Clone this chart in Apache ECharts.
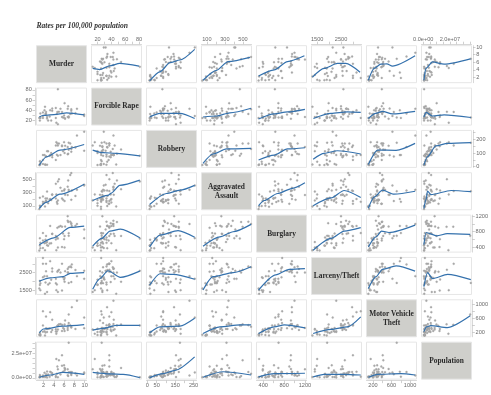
<!DOCTYPE html>
<html><head><meta charset="utf-8">
<style>html,body{margin:0;padding:0;background:#fff}#c{width:491px;height:395px;filter:blur(.35px)}</style>
<script src="https://cdn.jsdelivr.net/npm/echarts@6/dist/echarts.min.js"></script>
</head><body><div id="c"></div>
<script>
const states=["AL","AK","AZ","AR","CA","CO","CT","DE","FL","GA","HI","ID","IL","IN","IA","KS","KY","LA","ME","MD","MA","MI","MN","MS","MO","MT","NE","NV","NH","NJ","NM","NY","NC","ND","OH","OK","OR","PA","RI","SC","SD","TN","TX","UT","VT","VA","WA","WV","WI","WY"];
const murder=[8.2,4.8,7.5,6.7,6.9,3.7,2.9,4.4,5,6.2,1.9,2.4,6,5.8,1.3,3.7,4.6,9.9,1.4,9.9,2.7,6.1,2.2,7.4,6.9,1.9,2.5,8.5,1.4,4.8,6.8,4.5,6.7,1.2,4.7,5.3,2.5,5.6,3.2,7.4,2.3,7.2,5.6,1.9,1.3,6.1,3.3,4.4,3.5,2.7];
const rape=[34.3,81.1,33.8,42.9,26,43.4,20,44.7,37.1,23.6,25.3,32.9,30,26,26,39,33,31.7,25,29,27,54,40,39,28,29,33,43,34,13,48,16,27,25,37,43,37,27,28,42,47,33,37,36,20,25,40,25,20,24];
const robbery=[141.4,80.9,144.4,91.1,176.1,84.6,113,154.8,169.4,153,85.6,14.6,180,114,40,69,88,117,21,256.7,114,126,85,110,125,20,74,228,37,155,95,180,145,12,170,85,75,150,80,130,16,170,155,50,12,100,85,50,100,15];
const assault=[247.8,465.1,327.4,386.8,317.3,264.7,138.6,428.4,496.6,264.3,159,210,328,190,220,270,155,415.3,84,404,312,347,150,190,340,240,175,340,95,180,480,270,260,50,130,370,170,210,190,590,90,560,320,130,100,170,200,210,185,210];
const burglary=[953.8,622.5,948.4,1084.6,693.3,744.8,437.1,688.9,926.3,931,763,593,606,750,630,740,650,856,510,631,530,690,500,1020,760,375,510,1000,370,390,1050,320,1200,310,900,950,690,400,490,1000,320,1060,930,570,440,390,950,600,500,450];
const larceny=[2650,2599.1,2965.2,2711.2,1916.5,2735.2,1824.1,2144.2,2658.3,2580.2,3328,1945,2110,2230,2030,2560,1830,2600,1900,2150,1400,1980,2300,1960,2800,2230,2570,2300,1500,1400,2500,1500,2500,1600,2550,2500,3000,1480,1900,2800,1300,2850,3000,3000,1800,2200,3150,1900,2100,2300];
const vehicle=[288.3,391,924.4,262.1,712.8,559.5,296.8,278.5,423.3,537.7,803,186,290,320,170,260,215,310,100,620,290,420,224,330,460,210,310,1115,130,270,390,150,320,120,380,430,650,230,300,350,100,400,410,390,110,230,780,215,200,200];
const population=[4.55e6,0.67e6,5.97e6,2.78e6,35.8e6,4.66e6,3.48e6,0.84e6,17.8e6,9.07e6,1.26e6,1.39e6,12.7e6,6.24e6,2.95e6,2.74e6,4.17e6,4.52e6,1.32e6,5.58e6,6.4e6,10.1e6,5.1e6,2.9e6,5.76e6,0.93e6,1.75e6,2.4e6,1.3e6,8.7e6,1.9e6,19.2e6,8.68e6,0.64e6,11.5e6,3.55e6,3.6e6,12.4e6,1.08e6,4.2e6,0.77e6,5.96e6,22.9e6,2.47e6,0.62e6,7.6e6,6.2e6,1.8e6,5.5e6,0.5e6];

const names=["Murder","Forcible Rape","Robbery","Aggravated\nAssault","Burglary","Larceny/Theft","Motor Vehicle\nTheft","Population"];
const values=[murder,rape,robbery,assault,burglary,larceny,vehicle,population];
const lows=[0.65,11.3,-5,40,270,1260,60,-1.3e6];
const highs=[10.35,83.5,266,595,1230,3360,1140,36.3e6];
const ticksMurder=[2,4,6,8,10];
const ticksRape=[20,30,40,50,60,70,80];
const ticksRobbery=[0,50,100,150,200,250];
const ticksAssault=[100,200,300,400,500];
const ticksBurglary=[400,600,800,1000,1200];
const ticksLarceny=[1500,2000,2500,3000];
const ticksVehicle=[200,400,600,800,1000];
const ticksPopulation=[0,5e6,10e6,15e6,20e6,25e6,30e6,35e6];
const ticks=[ticksMurder,ticksRape,ticksRobbery,ticksAssault,ticksBurglary,ticksLarceny,ticksVehicle,ticksPopulation];
const xLabels=[[2,4,6,8,10],[20,40,60,80],[0,50,150,250],[100,300,500],[400,800,1200],[1500,2500],[200,600,1000],[0,20e6]];
const yLabels=[[2,4,6,8,10],[20,40,60,80],[0,100,200],[100,300,500],[400,800,1200],[1500,2500],[200,600,1000],[0,25e6]];

// fitted curves, [x value, y value]; named fit_row_column
const fit_1_2=[[13,4.4],[23,4.1],[38,5.1],[52,5.7],[80,5]];
const fit_1_3=[[12,1.1],[68,3.5],[122,5.9],[176,6.6],[256,9.4]];
const fit_1_4=[[57,1.3],[206,3.9],[335,6.2],[578,7.3]];
const fit_1_5=[[310,2.4],[610,4],[865,6.2],[1190,7.7]];
const fit_1_6=[[1300,2.1],[1790,4.4],[2350,5.7],[2700,5.7],[3300,3.4]];
const fit_1_7=[[100,1.3],[225,4.4],[370,5.5],[500,5.6],[620,5],[1110,7.7]];
const fit_1_8=[[0.5e6,1.3e0],[2e6,4.4],[7e6,6.1],[15.7e6,5.5],[35.5e6,6.9]];
const fit_2_1=[[1.2,27],[2,30],[4.5,32],[6.5,35],[9.9,31]];
const fit_2_3=[[12,27],[68,34],[176,34],[256,24]];
const fit_2_4=[[57,27],[206,29],[355,35],[590,44]];
const fit_2_5=[[310,23],[610,33],[865,37],[1200,42]];
const fit_2_6=[[1340,24],[2080,34],[2770,37],[3328,36]];
const fit_2_7=[[100,24],[260,34],[405,38],[620,33],[1110,38]];
const fit_2_8=[[0.5e6,27],[2.2e6,36],[7e6,29],[15.7e6,31],[35.8e6,26]];
const fit_3_1=[[1.2,12],[2.6,73],[5.2,122],[9.9,163]];
const fit_3_2=[[13,122],[28,103],[47,98],[81,79]];
const fit_3_4=[[57,25],[168,93],[318,130],[590,134]];
const fit_3_5=[[310,49],[610,85],[865,130],[1200,139]];
const fit_3_6=[[1330,55],[1790,98],[2350,117],[3328,93]];
const fit_3_7=[[100,17],[300,122],[700,120],[1110,171]];
const fit_3_8=[[0.5e6,12],[3.2e6,73],[9.5e6,152],[18.3e6,171],[35.8e6,176]];
const fit_4_1=[[1.2,62],[2.5,150],[5.2,273],[9.9,423]];
const fit_4_2=[[13,179],[35,256],[40,290],[52,406],[81,484]];
const fit_4_3=[[12,118],[103,284],[176,334],[256,406]];
const fit_4_5=[[310,100],[420,179],[675,284],[961,362],[1200,445]];
const fit_4_6=[[1330,100],[2080,217],[2630,329],[3328,223]];
const fit_4_7=[[100,62],[225,228],[405,334],[655,273],[1110,318]];
const fit_4_8=[[0.5e6,62],[2.2e6,195],[3.2e6,318],[5.8e6,268],[21e6,329],[35.8e6,312]];
const fit_5_1=[[1.2,462],[4,640],[7.2,910],[9.9,942]];
const fit_5_2=[[13,424],[26,625],[38,815],[53,865],[81,640]];
const fit_5_3=[[12,404],[68,712],[166,827],[256,654]];
const fit_5_4=[[57,424],[245,664],[390,798],[590,990]];
const fit_5_6=[[1330,318],[2080,625],[2630,815],[3328,904]];
const fit_5_7=[[100,404],[265,664],[385,815],[545,779],[1110,971]];
const fit_5_8=[[0.5e6,462],[2.2e6,779],[10.4e6,692],[18.3e6,750],[35.8e6,731]];
const fit_6_1=[[1.2,2016],[3.3,2205],[5.8,2268],[7.2,2457],[9.9,2500]];
const fit_6_2=[[13,1554],[23.5,2163],[35,2604],[53,2226],[81,2583]];
const fit_6_3=[[12,1785],[68,2436],[140,2394],[256,2121]];
const fit_6_4=[[57,1512],[168,2268],[390,2500],[590,2835]];
const fit_6_5=[[310,1512],[640,2373],[900,2688],[1200,2730]];
const fit_6_7=[[100,1596],[265,2268],[405,2688],[700,2877],[1110,2583]];
const fit_6_8=[[0.5e6,1701],[3.2e6,2500],[7e6,2163],[18.3e6,2394],[35.8e6,2100]];
const fit_7_1=[[1.2,179],[2,287],[5.8,373],[9.9,416]];
const fit_7_2=[[13,254],[28,308],[47,395],[81,395]];
const fit_7_3=[[12,179],[68,352],[176,373],[256,600]];
const fit_7_4=[[57,157],[245,352],[467,406],[590,406]];
const fit_7_5=[[310,157],[610,352],[805,406],[1200,319]];
const fit_7_6=[[1330,157],[2080,276],[2770,352],[3328,643]];
const fit_7_8=[[0.5e6,211],[2.5e6,352],[5.8e6,384],[18.3e6,330],[35.8e6,676]];
const fit_8_1=[[1.2,0.6e6],[3.3,2.9e6],[5.8,5.5e6],[9.9,3.6e6]];
const fit_8_2=[[13,5.5e6],[38,4e6],[57,3.6e6],[81,0.2e6]];
const fit_8_3=[[12,0.2e6],[85,4.3e6],[150,7.7e6],[256,21.3e6]];
const fit_8_4=[[57,0.6e6],[280,6.2e6],[590,2.9e6]];
const fit_8_5=[[310,1e6],[610,4.3e6],[1200,4.7e6]];
const fit_8_6=[[1330,1e6],[1790,3.6e6],[2630,3.6e6],[3328,2.9e6]];
const fit_8_7=[[100,0.6e6],[300,3.6e6],[800,4.3e6],[1110,2.9e6]];
const fits={fit_1_2,fit_1_3,fit_1_4,fit_1_5,fit_1_6,fit_1_7,fit_1_8,fit_2_1,fit_2_3,fit_2_4,fit_2_5,fit_2_6,fit_2_7,fit_2_8,fit_3_1,fit_3_2,fit_3_4,fit_3_5,fit_3_6,fit_3_7,fit_3_8,fit_4_1,fit_4_2,fit_4_3,fit_4_5,fit_4_6,fit_4_7,fit_4_8,fit_5_1,fit_5_2,fit_5_3,fit_5_4,fit_5_6,fit_5_7,fit_5_8,fit_6_1,fit_6_2,fit_6_3,fit_6_4,fit_6_5,fit_6_7,fit_6_8,fit_7_1,fit_7_2,fit_7_3,fit_7_4,fit_7_5,fit_7_6,fit_7_8,fit_8_1,fit_8_2,fit_8_3,fit_8_4,fit_8_5,fit_8_6,fit_8_7};

const label=(v,k)=> k===7 ? (v===0?'0.0e+00':(v/1e7).toFixed(1)+'e+07') : String(v);
const AX='#b0b0b0', TXT='#6a6a6a', FONT='"Liberation Sans",sans-serif';
const X0=36.5,XS=55,PW=50,Y0=45.7,YS=42.35,PH=37;
const grid=[],xAxis=[],yAxis=[],series=[],graphic=[];
graphic.push({type:'text',x:36.5,y:26,silent:true,style:{text:'Rates per 100,000 population',textAlign:'left',textVerticalAlign:'middle',fontFamily:'"Liberation Serif",serif',fontStyle:'italic',fontWeight:'bold',fontSize:7.6,fill:'#333'}});
for(let r=0;r<8;r++)for(let c=0;c<8;c++){
  const i=grid.length,diag=r===c;
  const gx=X0+c*XS,gy=Y0+r*YS;
  grid.push({left:gx,top:gy,width:PW,height:PH,show:true,borderColor:'#e6e6e6',borderWidth:1,backgroundColor:diag?'#cfcfcb':'transparent'});
  const showTop=r===0&&c%2===1, showBottom=r===7&&c%2===0;
  const showX=showTop||showBottom;
  const showLeft=c===0&&r%2===1, showRight=c===7&&r%2===0;
  const showY=showLeft||showRight;
  xAxis.push({gridIndex:i,type:'value',min:lows[c],max:highs[c],position:showTop?'top':'bottom',offset:showX?1.5:0,splitLine:{show:false},
    axisLine:{show:showX,onZero:false,lineStyle:{color:AX,width:.5}},
    axisTick:{show:showX,length:2.5,customValues:ticks[c],lineStyle:{color:AX,width:.6}},
    axisLabel:{show:showX,customValues:xLabels[c],margin:1.5,fontSize:5.6,color:TXT,fontFamily:FONT,hideOverlap:false,showMinLabel:true,showMaxLabel:true,formatter:v=>label(v,c)}});
  yAxis.push({gridIndex:i,type:'value',min:lows[r],max:highs[r],position:showLeft?'left':'right',offset:showY?1.5:0,splitLine:{show:false},
    axisLine:{show:showY,onZero:false,lineStyle:{color:AX,width:.5}},
    axisTick:{show:showY,length:2.5,customValues:ticks[r],lineStyle:{color:AX,width:.6}},
    axisLabel:{show:showY,customValues:yLabels[r],margin:3.2,fontSize:5.6,color:TXT,fontFamily:FONT,hideOverlap:false,showMinLabel:true,showMaxLabel:true,formatter:v=>label(v,r)}});
  if(diag){
    graphic.push({type:'text',x:gx+PW/2,y:gy+PH/2,z:10,silent:true,style:{text:names[r],textAlign:'center',textVerticalAlign:'middle',fontFamily:'"Liberation Serif",serif',fontWeight:'bold',fontSize:7.4,lineHeight:9,fill:'#2a2a2a'}});
    continue;
  }
  series.push({type:'scatter',xAxisIndex:i,yAxisIndex:i,symbolSize:2,silent:true,
    itemStyle:{color:'#ababab',borderColor:'#929292',borderWidth:.25,opacity:1},
    data:values[c].map((v,k)=>[v,values[r][k]])});
  series.push({type:'line',xAxisIndex:i,yAxisIndex:i,showSymbol:false,smooth:.25,smoothMonotone:'x',silent:true,z:3,
    lineStyle:{color:'#3471ad',width:1.2},data:fits['fit_'+(r+1)+'_'+(c+1)]});
}
const chart=echarts.init(document.getElementById('c'),null,{renderer:'canvas'});
chart.setOption({animation:false,backgroundColor:'#fff',grid,xAxis,yAxis,series,graphic,tooltip:{show:false},legend:{show:false}});
</script></body></html>
